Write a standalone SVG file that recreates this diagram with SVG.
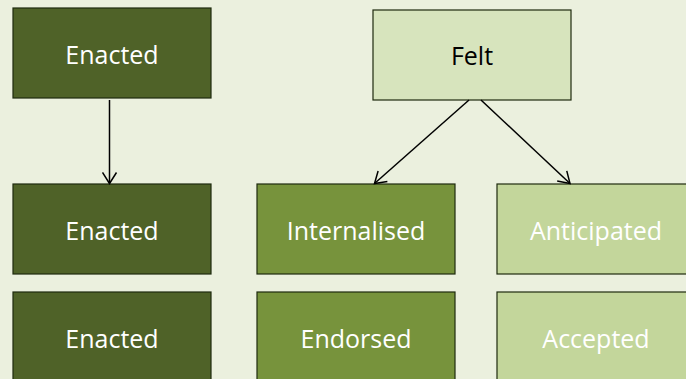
<svg xmlns="http://www.w3.org/2000/svg" width="686" height="379" viewBox="0 0 686 379">
  <defs>
    <marker id="open-arrow" markerWidth="16" markerHeight="16" refX="12" refY="8" orient="auto" markerUnits="userSpaceOnUse">
      <path d="M1,1 L12,8 L1,15" fill="none" stroke="#000" stroke-width="1.5"/>
    </marker>
  </defs>
  <style>
    .box { stroke: #1e2a0e; stroke-width: 1.2; }
    .dark { fill: #4f6228; }
    .mid { fill: #77933c; }
    .light { fill: #c3d69b; }
    .pale { fill: #d7e4bd; }
    .label { font-family: "Open Sans", "Noto Sans", sans-serif; font-size: 25px; text-anchor: middle; fill: #ffffff; }
    .label.ink { fill: #000000; }
    .edge { stroke: #000; stroke-width: 1.5; fill: none; marker-end: url(#open-arrow); }
  </style>

  <rect x="0" y="0" width="686" height="379" fill="#ebf0de"/>

  <!-- left column -->
  <g id="enacted-1">
    <rect class="box dark" x="13" y="8" width="198" height="90"/>
    <text class="label" x="112" y="63.5">Enacted</text>
  </g>
  <g id="enacted-2">
    <rect class="box dark" x="13" y="184" width="198" height="90"/>
    <text class="label" x="112" y="239.5">Enacted</text>
  </g>
  <g id="enacted-3">
    <rect class="box dark" x="13" y="292" width="198" height="92"/>
    <text class="label" x="112" y="347.5">Enacted</text>
  </g>

  <!-- felt branch -->
  <g id="felt">
    <rect class="box pale" x="373" y="10" width="198" height="90"/>
    <text class="label ink" x="472" y="65">Felt</text>
  </g>
  <g id="internalised">
    <rect class="box mid" x="257" y="184" width="198" height="90"/>
    <text class="label" x="356" y="239.5">Internalised</text>
  </g>
  <g id="endorsed">
    <rect class="box mid" x="257" y="292" width="198" height="92"/>
    <text class="label" x="356" y="347.5">Endorsed</text>
  </g>
  <g id="anticipated">
    <rect class="box light" x="497" y="184" width="198" height="90"/>
    <text class="label" x="596" y="239.5">Anticipated</text>
  </g>
  <g id="accepted">
    <rect class="box light" x="497" y="292" width="198" height="92"/>
    <text class="label" x="596" y="347.5">Accepted</text>
  </g>

  <g id="connectors">
    <line class="edge" x1="109.5" y1="100" x2="109.5" y2="183.5"/>
    <line class="edge" x1="469" y1="100" x2="374.5" y2="183.5"/>
    <line class="edge" x1="481" y1="100" x2="570" y2="183.5"/>
  </g>
</svg>
